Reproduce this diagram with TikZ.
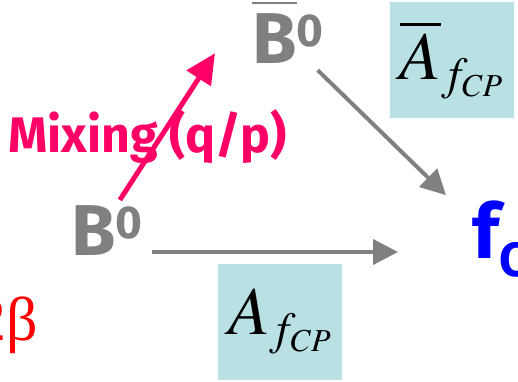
\documentclass[tikz,border=0pt]{standalone}
\usepackage{mathptmx}
\usepackage{fontspec}
\setmainfont{Liberation Serif}
\newfontfamily\comicfont{Fira Sans}
\DeclareMathSizes{68}{68}{46}{32}
\usetikzlibrary{arrows.meta,positioning}

\definecolor{boxcyan}{RGB}{185,224,227}
\definecolor{mixpink}{RGB}{255,0,102}
\definecolor{mesongray}{RGB}{128,128,128}

\newcommand{\supzero}{\raisebox{17pt}{\fontsize{46}{46}\selectfont 0}}

\tikzset{
	meson/.style={text=mesongray, inner sep=0pt, font=\comicfont\bfseries\fontsize{72}{72}\selectfont},
	ampbox/.style={fill=boxcyan, inner sep=0pt, minimum width=124pt, minimum height=116pt, font=\fontsize{68}{68}\selectfont},
	decay/.style={draw=mesongray, line width=4pt, -{Triangle[length=25pt,width=25pt]}},
	mixing/.style={draw=mixpink, line width=5pt, -{Triangle[length=30pt,width=28pt]}},
}

\begin{document}
\begin{tikzpicture}[x=1pt,y=-1pt]
	\useasboundingbox (0,0) rectangle (518,381);
	\clip (0,0) rectangle (518,381);

	% amplitudes
	\node[ampbox] (abar) at (451.5,60) {$\overline{A}_{f_{CP}}$};
	\node[ampbox] (amp) at (280,321.5) {$A_{f_{CP}}$};

	% mesons and final state
	\node[meson, anchor=base west] (b0) at (71,255) {B\supzero};
	\node[meson, anchor=base west] (b0bar) at (252,63) {$\overline{\hbox{B}}$\supzero};
	\node[anchor=base west, inner sep=0pt, text=blue, font=\comicfont\bfseries\fontsize{76}{76}\selectfont] (fcp) at (472,258) {f\raisebox{-18pt}{\fontsize{48}{48}\selectfont CP}};

	% labels
	\node[anchor=base west, inner sep=0pt, text=mixpink, font=\comicfont\bfseries\fontsize{50}{50}\selectfont] (mix) at (8,152) {Mixing (q/p)};
	\node[anchor=base east, inner sep=0pt, text=red, font=\fontsize{62}{62}\selectfont] (phase) at (38,340) {2β};

	% transitions
	\draw[decay] ([xshift=9pt,yshift=3pt]b0.base east) -- ([xshift=-74pt,yshift=6pt]fcp.base west);
	\draw[decay] ([xshift=-6pt,yshift=-7pt]b0bar.south east) -- ([xshift=-26pt,yshift=5pt]fcp.north west);
	\draw[mixing] ([xshift=13pt,yshift=5pt]b0.north) -- ([xshift=-37pt,yshift=10pt]b0bar.south west);
\end{tikzpicture}
\end{document}
